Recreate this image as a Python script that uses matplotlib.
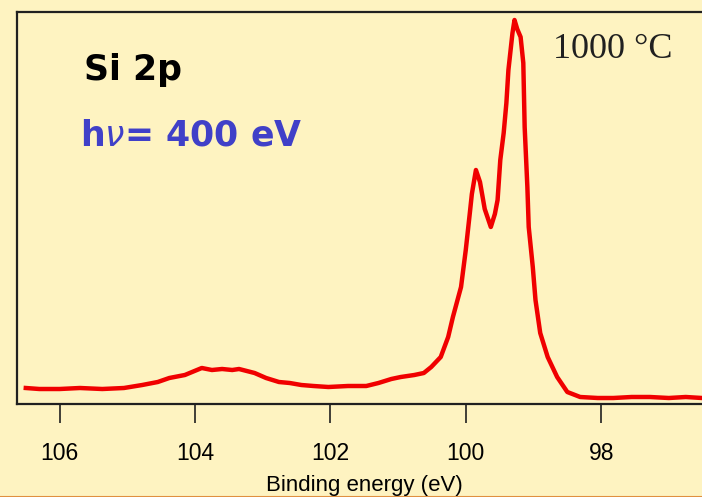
import matplotlib
matplotlib.use("Agg")
import matplotlib.pyplot as plt
from matplotlib.lines import Line2D

# Binding energy (eV) and intensity (arb. units)
energy = [106.50, 106.30, 106.00, 105.70, 105.37, 105.05, 104.78, 104.55, 104.38,
          104.15, 103.90, 103.75, 103.60, 103.45, 103.35, 103.12, 102.95, 102.76,
          102.60, 102.43, 102.25, 102.03, 101.74, 101.47, 101.29, 101.10, 100.96,
          100.76, 100.62, 100.51, 100.37, 100.26, 100.19, 100.07, 100.00, 99.94,
          99.91, 99.85, 99.79, 99.72, 99.63, 99.57, 99.53, 99.49, 99.44, 99.40,
          99.37, 99.31, 99.28, 99.24, 99.19, 99.15, 99.13, 99.09, 99.07, 99.01,
          98.97, 98.90, 98.79, 98.65, 98.50, 98.31, 98.05, 97.82, 97.55, 97.28,
          97.00, 96.75, 96.51]
intensity = [16, 15, 15, 16, 15, 16, 19, 22, 26,
             29, 36, 34, 35, 34, 35, 31, 26, 22,
             21, 19, 18, 17, 18, 18, 21, 25, 27,
             29, 31, 37, 47, 67, 87, 117, 154, 191,
             210, 234, 222, 195, 177, 190, 204, 244, 271, 301,
             334, 371, 384, 375, 367, 341, 277, 217, 177, 137,
             104, 71, 47, 27, 12, 7, 6, 6, 7, 7,
             6, 7, 6]

xticks = [106, 104, 102, 100, 98]
xlabel = "Binding energy (eV)"
title_core = "Si 2p"
photon = "h$\\nu$= 400 eV"
temperature = "1000 °C"

bg = "#FEF3C1"
fig = plt.figure(figsize=(7.02, 4.97), dpi=100, facecolor=bg)
ax = fig.add_axes([17/702, (497-404)/497, 1 - 17/702, (404-12)/497])
ax.set_facecolor(bg)

ax.plot(energy, intensity, color="#F00000", lw=3.2, solid_joinstyle="round")

ax.set_xlim(106.63, 96.51)
ax.set_ylim(0, 392)
ax.set_xticks(xticks)
ax.set_xticklabels([str(t) for t in xticks], fontfamily="Liberation Sans", fontsize=16.5)
ax.set_yticks([])
ax.tick_params(axis="x", direction="out", length=13.5, width=1.2, pad=14, color="#202020")
for side in ["left", "top", "bottom"]:
    ax.spines[side].set_linewidth(1.6)
    ax.spines[side].set_color("#202020")
ax.spines["right"].set_visible(False)

fig.text(364/702, 1 - 485/497, xlabel, ha="center", va="center",
         fontfamily="Liberation Sans", fontsize=16)

fig.text(84/702, 1 - 70/497, title_core, ha="left", va="center",
         fontsize=25, fontweight="bold", color="black")
fig.text(80/702, 1 - 135/497, photon, ha="left", va="center",
         fontsize=25, fontweight="bold", color="#4040C8")
fig.text(553/702, 1 - 50/497, temperature, ha="left", va="center",
         fontfamily="Liberation Serif", fontsize=26, color="#202020")

fig.add_artist(Line2D([0, 1], [0.5/497, 0.5/497], transform=fig.transFigure,
                      color="#E09040", lw=1.5))

fig.savefig("out.png", dpi=100, facecolor=bg)
